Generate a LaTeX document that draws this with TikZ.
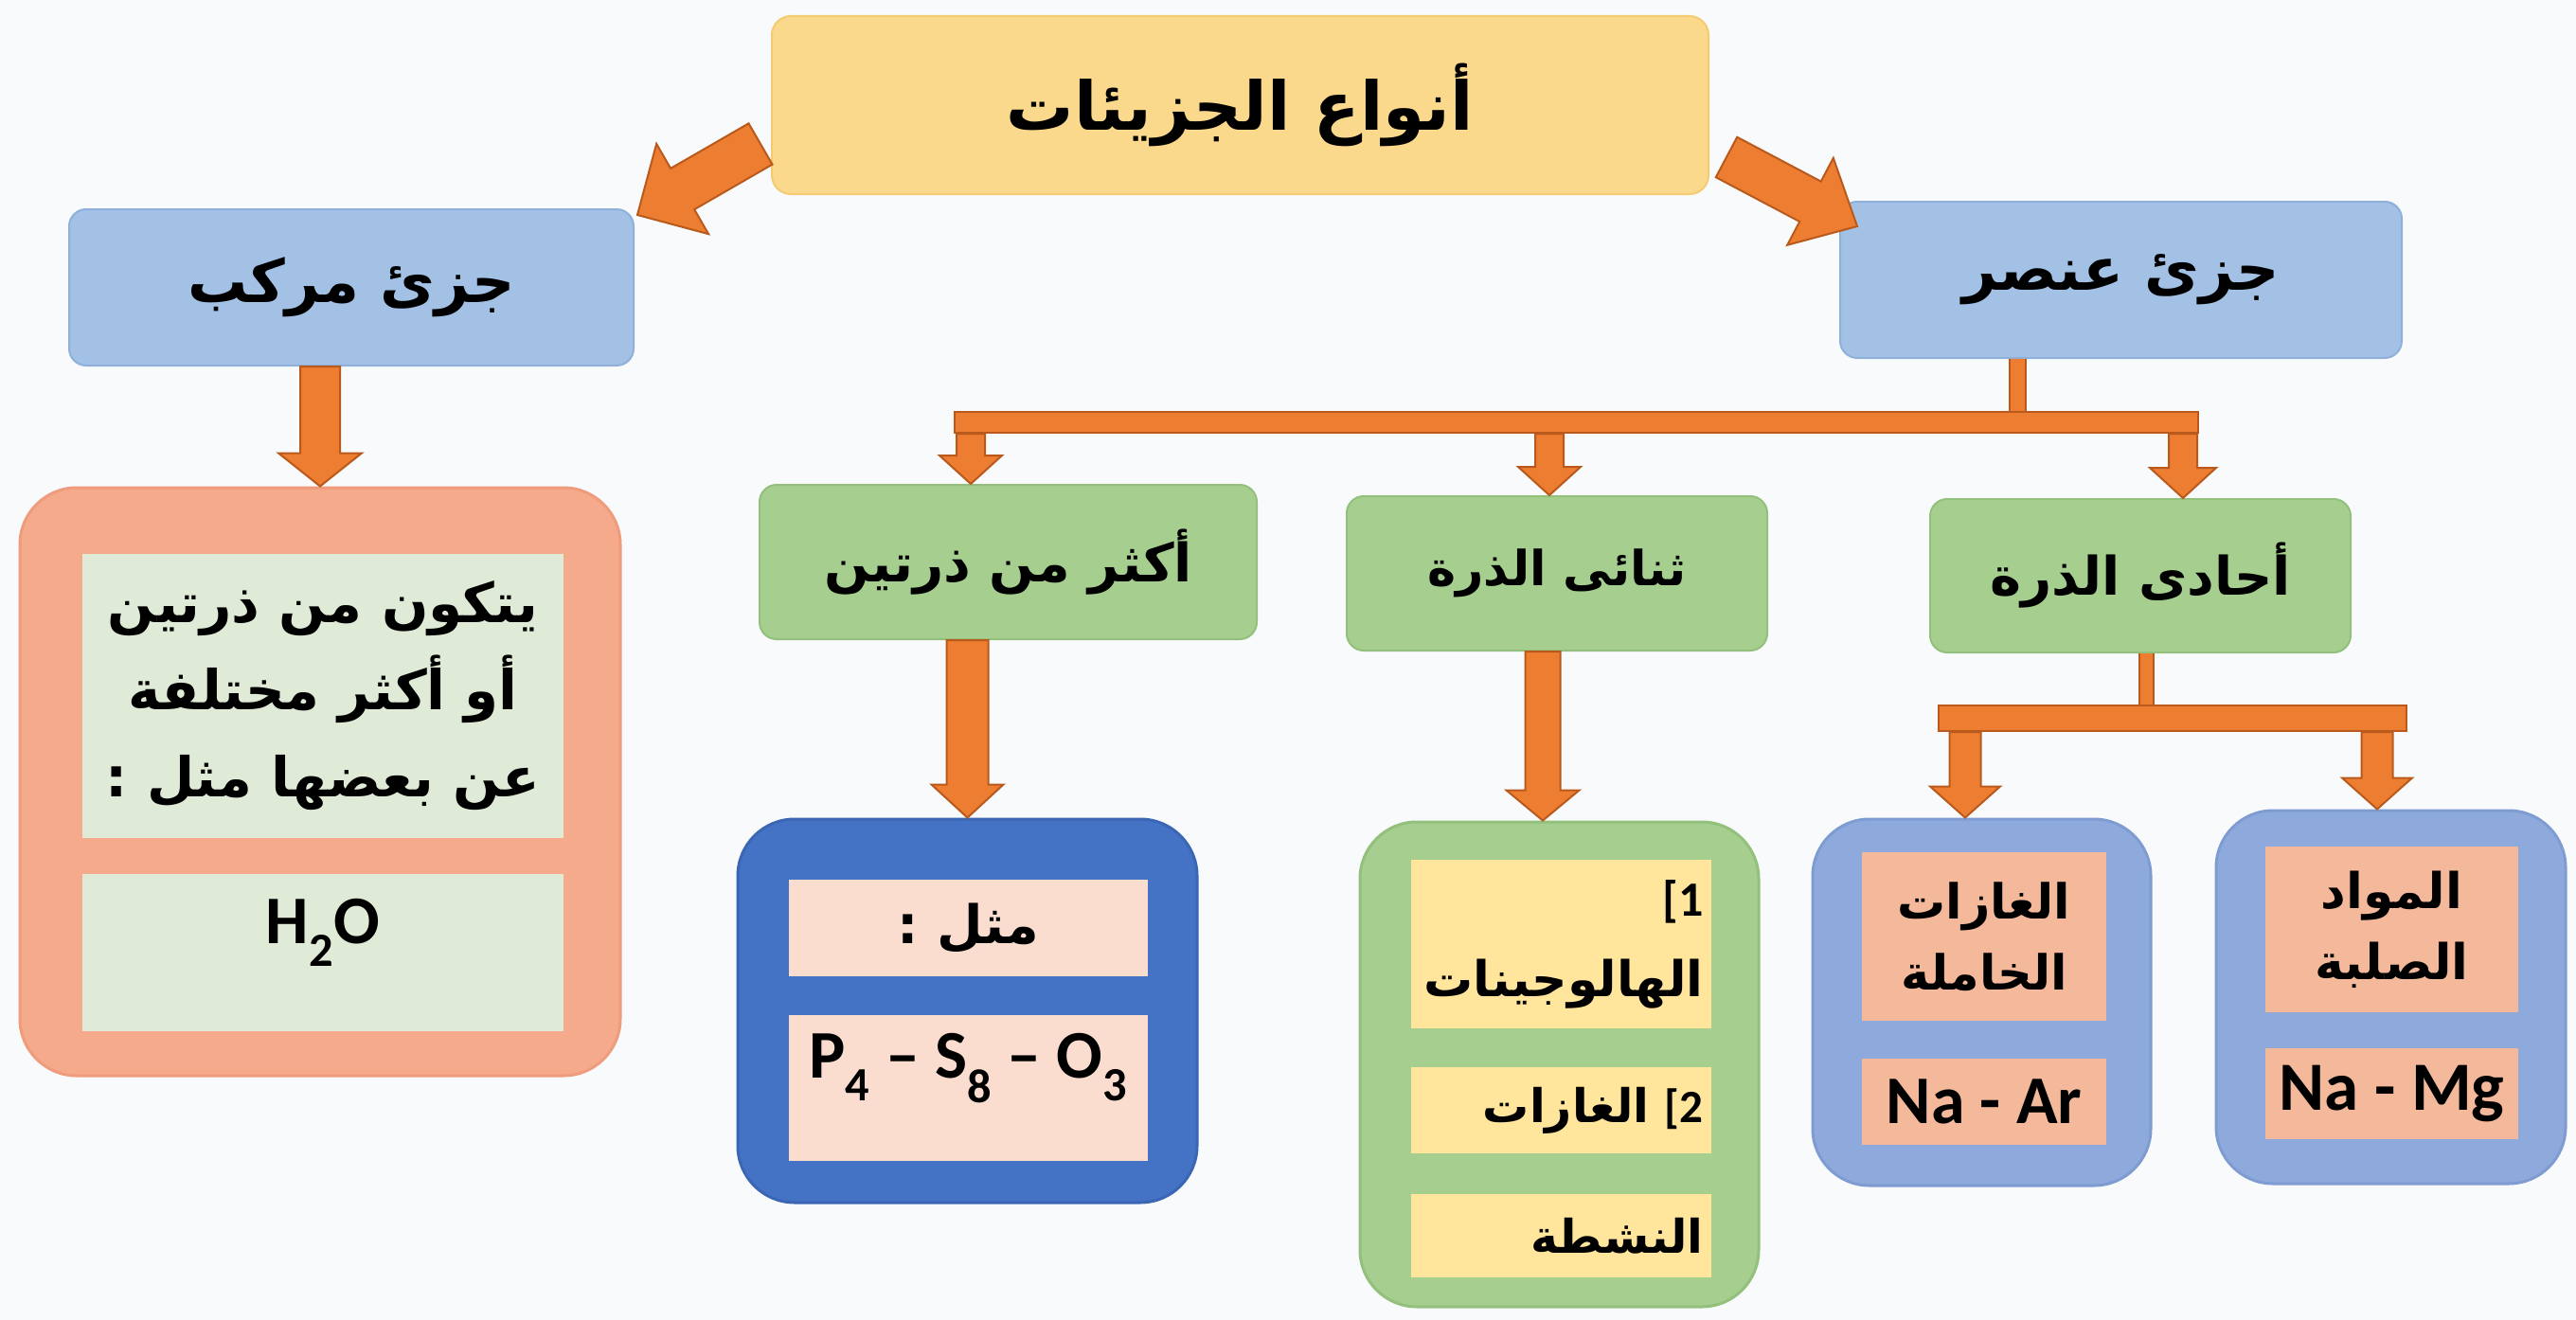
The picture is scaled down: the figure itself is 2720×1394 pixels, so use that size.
\documentclass[tikz,border=0pt]{standalone}
\usepackage{fontspec}
\usetikzlibrary{calc}
\newfontfamily\arabicfont[Script=Arabic]{DejaVu Sans}
\newfontfamily\latinfont{Carlito}
\TeXXeTstate=1

\definecolor{pagebg}{HTML}{F8FAFB}
\definecolor{titlefill}{HTML}{FAD98C}
\definecolor{titleline}{HTML}{F4CB72}
\definecolor{bluefill}{HTML}{A3C1E5}
\definecolor{blueline}{HTML}{8FB0DA}
\definecolor{greenfill}{HTML}{A6CF8F}
\definecolor{greenline}{HTML}{93C07C}
\definecolor{salmonfill}{HTML}{F5AA8C}
\definecolor{salmonline}{HTML}{EE9C7C}
\definecolor{mintpanel}{HTML}{DFEBD6}
\definecolor{deepblue}{HTML}{4472C4}
\definecolor{deepblueline}{HTML}{3B66B4}
\definecolor{pinkpanel}{HTML}{FBDDD0}
\definecolor{yellowpanel}{HTML}{FFE69C}
\definecolor{lavfill}{HTML}{8EA9DB}
\definecolor{lavline}{HTML}{7F9CD2}
\definecolor{peachpanel}{HTML}{F4B99B}
\definecolor{arrowfill}{HTML}{ED7D31}
\definecolor{arrowline}{HTML}{B95A1C}

% block arrow: half shaft, half head, head length, from, to
\newcommand{\fatarrow}[5]{%
  \coordinate (fa-s) at (#4);
  \coordinate (fa-t) at (#5);
  \coordinate (fa-h) at ($(fa-t)!#3!(fa-s)$);
  \draw[fat] ($(fa-s)!#1!90:(fa-t)$) -- ($(fa-h)!#1!-90:(fa-s)$)
    -- ($(fa-h)!#2!-90:(fa-s)$) -- (fa-t) -- ($(fa-h)!#2!90:(fa-s)$)
    -- ($(fa-h)!#1!90:(fa-s)$) -- ($(fa-s)!#1!-90:(fa-t)$) -- cycle;
}
% bracket and number, as printed
\newcommand{\itemno}[1]{{\latinfont\hbox{[}\hbox{#1}}}

\tikzset{
  arab/.style 2 args={font=\arabicfont\bfseries\fontsize{#1}{#2}\selectfont},
  latn/.style={font=\latinfont\bfseries\fontsize{#1}{#1}\selectfont},
  titlebox/.style={draw=titleline, fill=titlefill, line width=2pt, rounded corners=20pt, inner sep=0pt, arab={71}{80}},
  bluebox/.style={draw=blueline, fill=bluefill, line width=2pt, rounded corners=18pt, inner sep=0pt, arab={63}{70}},
  greenbox/.style={draw=greenline, fill=greenfill, line width=2pt, rounded corners=18pt, inner sep=0pt, arab={56}{64}},
  bigbox/.style={line width=3pt, rounded corners=60pt, inner sep=0pt},
  panel/.style={inner sep=0pt, align=center},
  fat/.style={fill=arrowfill, draw=arrowline, line width=2pt, line join=miter},
  stemline/.style={draw=arrowline, line width=2pt, double=arrowfill, double distance=#1},
  barbox/.style={fill=arrowfill, draw=arrowline, line width=2pt, inner sep=0pt},
}

\begin{document}
\begin{tikzpicture}[x=1pt,y=-1pt]

\fill[pagebg] (0,0) rectangle (2720,1394);
\useasboundingbox (0,0) rectangle (2720,1394);

% top row
\node[titlebox, minimum width=989pt, minimum height=188pt] (title) at (1309.5,111) {\beginR أنواع الجزيئات\endR};
\node[bluebox, minimum width=596pt, minimum height=165pt] (mrkb) at (371,303.5) {\beginR جزئ مركب\endR};
\node[bluebox, minimum width=593pt, minimum height=165pt] (ensr) at (2239.5,295.5) {\beginR جزئ عنصر\endR};

\fatarrow{25pt}{55pt}{55pt}{$(title.south west)+(-11,-54)$}{$(mrkb.north east)+(3,7)$}
\fatarrow{24pt}{52pt}{56pt}{$(title.south east)+(18,-40)$}{$(ensr.north west)+(19,27)$}

% compound side
\node[bigbox, draw=salmonline, fill=salmonfill, minimum width=634pt, minimum height=621pt] (slmn) at (338,825.5) {};
\node[panel, fill=mintpanel, minimum width=508pt, minimum height=300pt, arab={58}{92}] (slmn1) at (341,735)
  {\beginR يتكون من ذرتين\endR\\ \beginR أو أكثر مختلفة\endR\\ \beginR عن بعضها مثل :\endR};
\node[panel, fill=mintpanel, minimum width=508pt, text height=73pt, text depth=93pt, latn=72] (slmn2) at (341,1006) {H\textsubscript{2}O};

\fatarrow{21pt}{44pt}{35pt}{mrkb.south -| slmn.north}{slmn.north}

% element side
\node[greenbox, minimum width=525pt, minimum height=163pt] (akthr) at (1064.5,593.5) {\beginR أكثر من ذرتين\endR};
\node[greenbox, minimum width=444pt, minimum height=163pt, arab={51}{60}] (thnai) at (1644,605.5) {\beginR ثنائى الذرة\endR};
\node[greenbox, minimum width=444pt, minimum height=162pt] (ahadi) at (2260,608) {\beginR أحادى الذرة\endR};

\draw[stemline=15pt] (ensr.south -| 2130,0) -- (2130,446);
\node[barbox, minimum width=1313pt, minimum height=22pt] (bar1) at (1664.5,446) {};
\fatarrow{15pt}{33pt}{30pt}{bar1.south -| 1025,0}{akthr.north -| 1025,0}
\fatarrow{15pt}{33pt}{30pt}{bar1.south -| 1636,0}{thnai.north -| 1636,0}
\fatarrow{15pt}{35pt}{32pt}{bar1.south -| 2305,0}{ahadi.north -| 2305,0}

% more than two atoms
\node[bigbox, draw=deepblueline, fill=deepblue, minimum width=485pt, minimum height=405pt] (dblu) at (1021.5,1067.5) {};
\node[panel, fill=pinkpanel, minimum width=379pt, minimum height=102pt, arab={56}{60}] (dblu1) at (1022.5,980) {\beginR مثل :\endR};
\node[panel, fill=pinkpanel, minimum width=379pt, text height=66pt, text depth=88pt, latn=72] (dblu2) at (1022.5,1149)
  {P\textsubscript{4} – S\textsubscript{8} – O\textsubscript{3}};
\fatarrow{22pt}{38pt}{35pt}{akthr.south -| dblu.north}{dblu.north}

% diatomic
\node[bigbox, draw=greenline, fill=greenfill, minimum width=421pt, minimum height=512pt] (gbig) at (1646.5,1124) {};
\node[panel, fill=yellowpanel, minimum width=317pt, minimum height=178pt, text width=300pt, align=right, arab={52}{85}] (gbig1) at (1648.5,997)
  {\itemno{1}\\ \beginR الهالوجينات\endR};
\node[panel, fill=yellowpanel, minimum width=317pt, minimum height=91pt, text width=300pt, align=right, arab={49}{58}] (gbig2) at (1648.5,1172.5)
  {\beginR\beginL\itemno{2}\endL{} الغازات\endR};
\node[panel, fill=yellowpanel, minimum width=317pt, minimum height=88pt, text width=300pt, align=right, arab={49}{58}] (gbig3) at (1648.5,1305)
  {\beginR النشطة\endR\hspace*{90pt}};
\fatarrow{18.5pt}{38.5pt}{32pt}{thnai.south -| 1629,0}{gbig.north -| 1629,0}

% monatomic
\draw[stemline=13pt] (ahadi.south -| 2266,0) -- (2266,758.5);
\node[barbox, minimum width=494pt, minimum height=27pt] (bar2) at (2294,758.5) {};

\node[bigbox, draw=lavline, fill=lavfill, minimum width=357pt, minimum height=387pt] (lav1) at (2092.5,1058.5) {};
\node[panel, fill=peachpanel, minimum width=258pt, minimum height=178pt, arab={51}{75}] (lav1a) at (2095,989)
  {\beginR الغازات\endR\\ \beginR الخاملة\endR};
\node[panel, fill=peachpanel, minimum width=258pt, minimum height=91pt, latn=72] (lav1b) at (2095,1163.5) {Na - Ar};

\node[bigbox, draw=lavline, fill=lavfill, minimum width=369pt, minimum height=394pt] (lav2) at (2524.5,1053) {};
\node[panel, fill=peachpanel, minimum width=267pt, minimum height=175pt, arab={52}{75}] (lav2a) at (2525.5,981.5)
  {\beginR المواد\endR\\ \beginR الصلبة\endR};
\node[panel, fill=peachpanel, minimum width=267pt, minimum height=96pt, latn=73] (lav2b) at (2525.5,1155) {Na - Mg};

\fatarrow{16.5pt}{37pt}{33pt}{bar2.south -| 2075,0}{lav1.north -| 2075,0}
\fatarrow{16.5pt}{37pt}{33pt}{bar2.south -| 2510,0}{lav2.north -| 2510,0}

\end{tikzpicture}
\end{document}
